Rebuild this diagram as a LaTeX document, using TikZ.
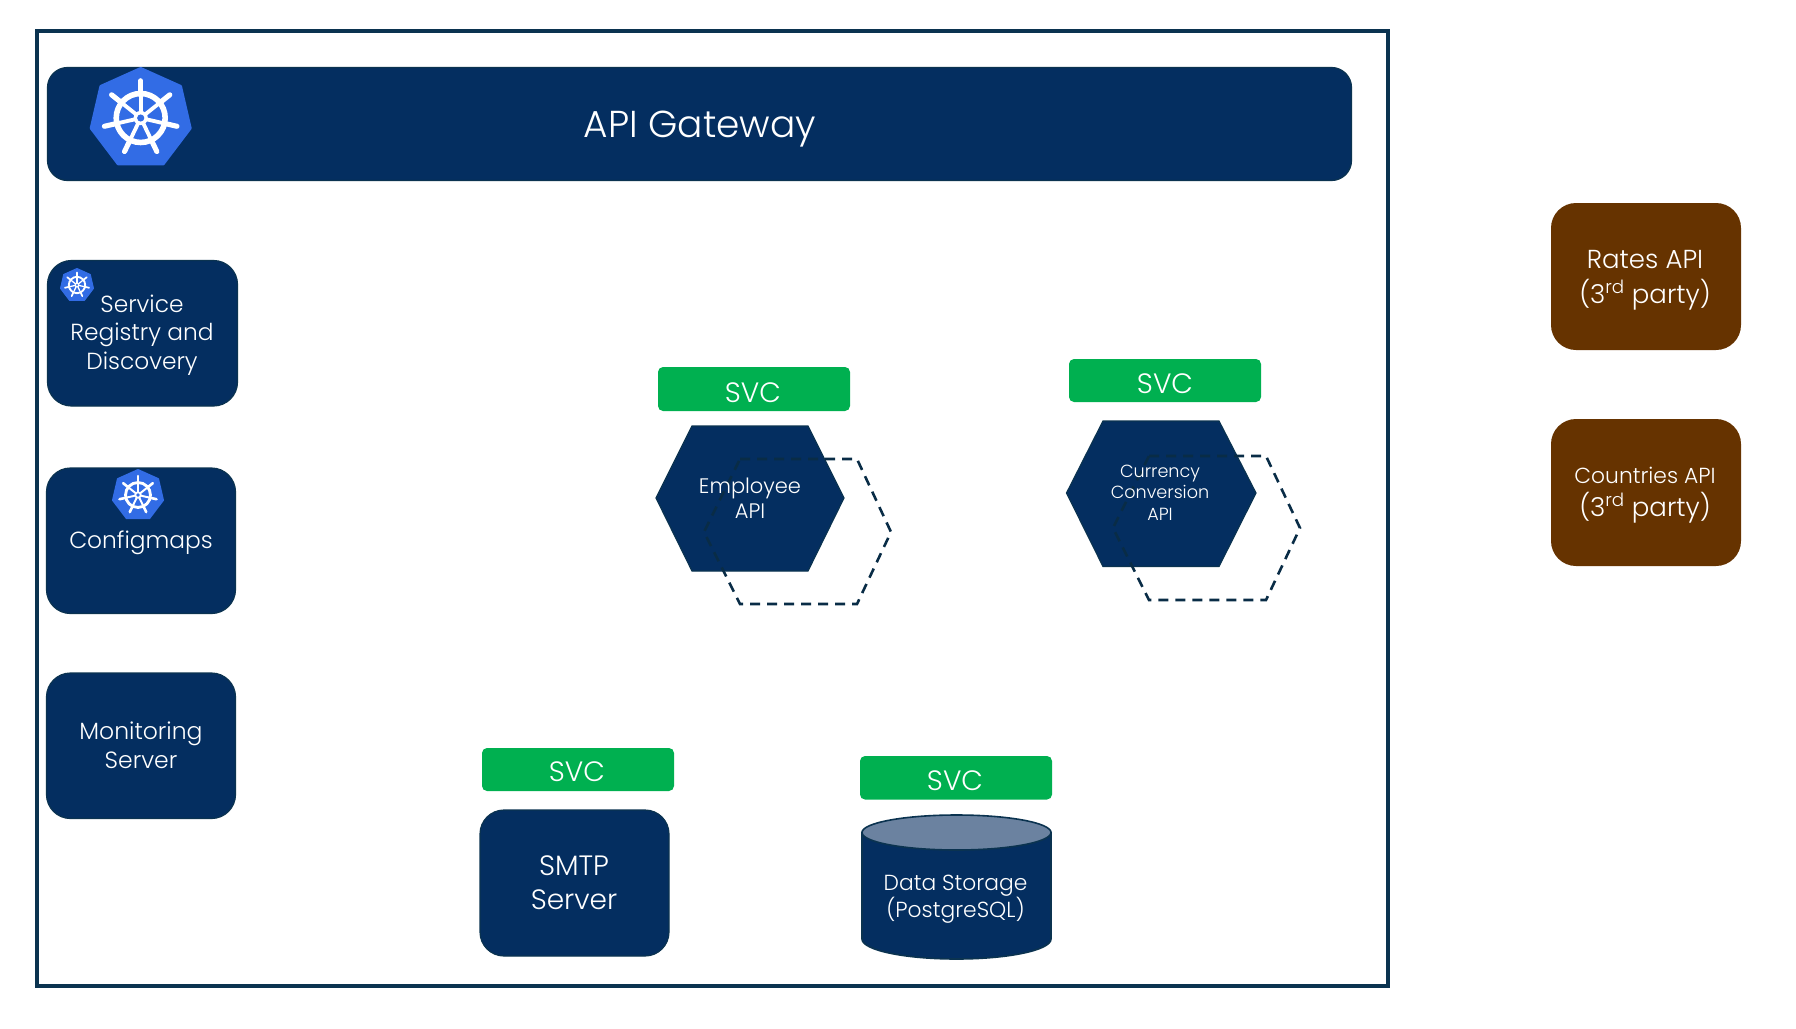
\documentclass[tikz,border=0pt]{standalone}
\usepackage{fontspec}
\setmainfont{Poppins}[UprightFont=* Light]
\definecolor{navy}{HTML}{042E60}
\definecolor{navyline}{HTML}{0B3350}
\definecolor{dashline}{HTML}{092C46}
\definecolor{kblue}{HTML}{326CE5}
\definecolor{svcgreen}{HTML}{00B050}
\definecolor{brownbox}{HTML}{663300}
\definecolor{cyltop}{HTML}{6B82A0}
\tikzset{
  x=1pt,y=-1pt,
  lbl/.style={text=white,align=center,inner sep=0pt,anchor=base},
  navybox/.style={fill=navy,draw=navyline,line width=1.2pt,rounded corners=24pt},
  svcbox/.style={fill=svcgreen,rounded corners=5pt},
  brownrect/.style={fill=brownbox,rounded corners=25pt},
  hexfill/.style={fill=navy,draw=navyline,line width=1.2pt,line join=miter},
  hexdash/.style={draw=dashline,line width=2.6pt,dash pattern=on 10pt off 7pt},
}
\newcommand{\fs}[2]{\fontsize{#1}{#2}\selectfont}
\newcommand{\kube}[3]{%
  \begin{scope}[shift={(#1,#2)}]
    \pgfmathsetmacro{\kr}{#3}
    \fill[kblue,draw=kblue,line width=0.06*\kr pt,line join=round]
      (0,-0.97*\kr) -- (0.78*\kr,-0.62*\kr) -- (0.97*\kr,0.2*\kr) -- (0.44*\kr,0.9*\kr)
      -- (-0.44*\kr,0.9*\kr) -- (-0.97*\kr,0.2*\kr) -- (-0.78*\kr,-0.62*\kr) -- cycle;
    \draw[white,line width=0.11*\kr pt] (0,0) circle[radius=0.48*\kr];
    \foreach \ka in {-90,-38.57,12.86,64.29,115.71,167.14,218.57}{
      \draw[white,line width=0.075*\kr pt] (0,0) -- (\ka:0.5*\kr);
      \draw[white,line width=0.1*\kr pt,line cap=round] (\ka:0.5*\kr) -- (\ka:0.73*\kr);
    }
    \fill[white] (0,0) circle[radius=0.14*\kr];
    \fill[kblue] (0,0) circle[radius=0.07*\kr];
  \end{scope}}
\begin{document}
\begin{tikzpicture}
\useasboundingbox (0,0) rectangle (1796,1028);
\draw[draw=navyline,line width=4pt] (37,31) rectangle (1388,986);
\draw[navybox,rounded corners=20pt] (47.5,67.5) rectangle (1351.5,180.5);
\kube{140.7}{118}{51}
\node[lbl,font=\fs{37.5}{44}] (gw) at (700,137) {API Gateway};

\draw[navybox] (47.5,260.5) rectangle (237.5,406);
\kube{77}{285}{17}
\node[lbl,font=\fs{23.3}{28.5}] (sr) at (142,369) {Service\\Registry and\\Discovery};

\draw[navybox] (46.5,468) rectangle (235.5,613.5);
\kube{138}{495}{26}
\node[lbl,font=\fs{23.3}{28.5}] (cm) at (141,548) {Configmaps};

\draw[navybox] (46.5,673) rectangle (235.5,818.5);
\node[lbl,font=\fs{23.5}{28.5}] (ms) at (141,768) {Monitoring\\Server};

% Employee API
\draw[hexfill] (692,426) -- (808,426) -- (844,498) -- (808,571) -- (692,571) -- (656,498) -- cycle;
\draw[hexdash] (740,459) -- (857,459) -- (891,532) -- (857,604) -- (740,604) -- (704,532) -- cycle;
\node[lbl,font=\fs{21}{25}] (emp) at (750,518.5) {Employee\\API};
\fill[svcgreen,rounded corners=5pt] (658,367) rectangle (850,411);
\node[lbl,font=\fs{28}{32}] (svc1) at (753,402) {SVC};

% Currency
\draw[hexfill] (1103,421) -- (1219,421) -- (1256,493) -- (1219,566.5) -- (1103,566.5) -- (1066.5,493) -- cycle;
\draw[hexdash] (1149,456) -- (1266,456) -- (1300,528) -- (1266,600) -- (1149,600) -- (1113,528) -- cycle;
\node[lbl,font=\fs{17.6}{21.5}] (cur) at (1160,520) {Currency\\Conversion\\API};
\fill[svcgreen,rounded corners=5pt] (1069,359) rectangle (1261,402);
\node[lbl,font=\fs{28}{32}] (svc2) at (1165,393) {SVC};

% SMTP
\fill[svcgreen,rounded corners=5pt] (482,748) rectangle (674,791);
\node[lbl,font=\fs{28}{32}] (svc3) at (577,781) {SVC};
\draw[navybox] (480,810) rectangle (669,956);
\node[lbl,font=\fs{28}{34}] (smtp) at (574,909) {SMTP\\Server};

% Data storage
\fill[svcgreen,rounded corners=5pt] (860,756) rectangle (1052,799.5);
\node[lbl,font=\fs{28}{32}] (svc4) at (955,790) {SVC};
\draw[fill=navy,draw=navyline,line width=1.6pt] (862,832.5) -- (862,939) arc[start angle=180,end angle=360,x radius=94.5pt,y radius=20pt] -- (1051,832.5) -- cycle;
\draw[fill=cyltop,draw=navyline,line width=1.6pt] (956.5,832.5) ellipse[x radius=94.5pt,y radius=17.5pt];
\node[lbl,font=\fs{21.8}{26.5}] (ds) at (955.5,917) {Data Storage\\(PostgreSQL)};

% Right boxes
\fill[brownrect] (1551,203) rectangle (1741,350);
\node[lbl,font=\fs{26}{35}] (rates) at (1645,303) {Rates API\\(3\textsuperscript{rd} party)};
\fill[brownrect] (1551,419) rectangle (1741,566);
\node[lbl,font=\fs{26}{33}] (ctry) at (1645,516) {{\fs{21.8}{26}Countries API}\\(3\textsuperscript{rd} party)};
\end{tikzpicture}
\end{document}
